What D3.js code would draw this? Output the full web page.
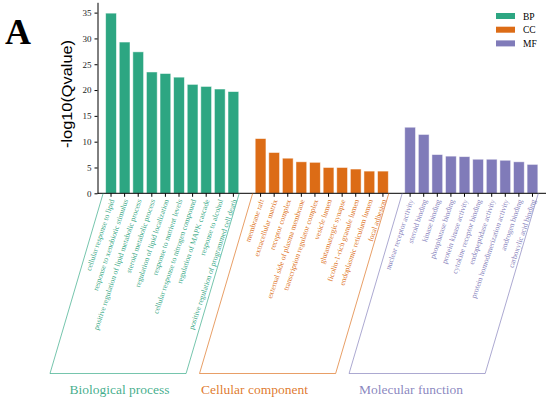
<!DOCTYPE html>
<html>
<head>
<meta charset="utf-8">
<script src="https://cdn.jsdelivr.net/npm/d3@7"></script>
<style>
    body { margin: 0; background: #ffffff; }
    svg { display: block; }
</style>
</head>
<body>
<svg id="chart" width="550" height="401"></svg>
<script>
//GO enrichment data, one list per category
const bpTerms = ["cellular response to lipid", "response to xenobiotic stimulus",
    "positive regulation of lipid metabolic process", "steroid metabolic process",
    "regulation of lipid localization", "response to nutrient levels",
    "cellular response to nitrogen compound", "regulation of MAPK cascade",
    "response to alcohol", "positive regulation of programmed cell death"];
const bpValues = [34.9, 29.3, 27.4, 23.5, 23.2, 22.5, 21.1, 20.7, 20.2, 19.7];

const ccTerms = ["membrane raft", "extracellular matrix", "receptor complex",
    "external side of plasma membrane", "transcription regulator complex", "vesicle lumen",
    "glutamatergic synapse", "ficolin-1-rich granule lumen", "endoplasmic reticulum lumen",
    "focal adhesion"];
const ccValues = [10.6, 7.9, 6.8, 6.1, 6.0, 5.0, 5.0, 4.7, 4.3, 4.3];

const mfTerms = ["nuclear receptor activity", "steroid binding", "kinase binding",
    "phosphatase binding", "protein kinase activity", "cytokine receptor binding",
    "endopeptidase activity", "protein homodimerization activity", "androgen binding",
    "carboxylic acid binding"];
const mfValues = [12.8, 11.4, 7.5, 7.2, 7.1, 6.6, 6.6, 6.4, 6.1, 5.6];

const groupKeys = ["BP", "CC", "MF"];
const groupNames = ["Biological process", "Cellular component", "Molecular function"];
const groupColors = ["#1b9e77", "#d95f02", "#7570b3"];
const yTicks = [0, 5, 10, 15, 20, 25, 30, 35];

const serif = "'Liberation Serif', 'Times New Roman', 'DejaVu Serif', serif";

class GoBarChart {

    constructor() {
        this.svg = d3.select("#chart");
        this.left = 97.5;
        this.right = 546;
        this.top = 2.3;
        this.bottom = 193.3;
        this.boxBottom = 373.5;
        this.slant = 0.295; //dx per dy of the label boxes
        this.groups = [];
        this.bars = [];
    }

    buildData() {
        let terms = [bpTerms, ccTerms, mfTerms];
        let values = [bpValues, ccValues, mfValues];
        let keys = [];
        let i = 0;
        for (i; i < groupKeys.length; i++) {
            let j = 0;
            for (j; j < terms[i].length; j++) {
                this.bars.push({term: terms[i][j], value: values[i][j], group: i});
                keys.push(terms[i][j]);
            }
            this.groups.push({name: groupNames[i], first: terms[i][0],
                last: terms[i][terms[i].length - 1], color: groupColors[i]});
            //empty slot between categories
            if (i < groupKeys.length - 1) {
                keys.push("gap" + i);
            }
        }

        this.x = d3.scaleBand()
            .domain(keys)
            .range([this.left, this.right])
            .paddingInner(0.21)
            .paddingOuter(0.6);

        this.y = d3.scaleLinear()
            .domain([0, 37])
            .range([this.bottom, this.top]);
    }

    drawChart() {
        let x = this.x;
        let y = this.y;
        let bottom = this.bottom;

        //bars
        this.svg.append("g")
            .attr("id", "barsG")
            .selectAll("rect")
            .data(this.bars)
            .enter()
            .append("rect")
            .attr("x", function (d) { return x(d.term); })
            .attr("y", function (d) { return y(d.value); })
            .attr("width", x.bandwidth())
            .attr("height", function (d) { return bottom - y(d.value); })
            .attr("fill", function (d) { return groupColors[d.group]; })
            .attr("fill-opacity", 0.92)
            .attr("stroke", "#ffffff")
            .attr("stroke-opacity", 0.6)
            .attr("stroke-width", 0.8);

        //y axis
        let yAxis = this.svg.append("g")
            .attr("transform", "translate(" + this.left + ",0)")
            .call(d3.axisLeft(y).tickValues(yTicks).tickSize(3).tickSizeOuter(0).tickPadding(3));
        yAxis.selectAll("text")
            .attr("font-family", serif)
            .attr("font-size", 9)
            .attr("fill", "#222");

        //x axis, ticks only under the bars
        let xAxis = this.svg.append("g")
            .attr("transform", "translate(0," + bottom + ")")
            .call(d3.axisBottom(x)
                .tickValues(this.bars.map(function (d) { return d.term; }))
                .tickSize(3.5).tickSizeOuter(0).tickFormat(""));
        xAxis.select(".domain").attr("d", "M" + this.left + ",0H" + this.right);

        //axis title is drawn narrow and tall in the original
        this.svg.append("text")
            .attr("transform", "translate(72,94) rotate(-90)")
            .attr("text-anchor", "middle")
            .attr("font-family", "'Liberation Sans', Arial, sans-serif")
            .attr("font-size", 14)
            .attr("textLength", 108)
            .attr("lengthAdjust", "spacingAndGlyphs")
            .text("-log10(Qvalue)");

        this.svg.append("text")
            .attr("x", 5)
            .attr("y", 44)
            .attr("font-family", serif)
            .attr("font-weight", "bold")
            .attr("font-size", 36)
            .text("A");
    }

    drawLabels() {
        let x = this.x;
        let bottom = this.bottom;
        let half = x.bandwidth() / 2;

        //rotated term labels
        this.svg.append("g")
            .attr("id", "labelsG")
            .selectAll("text")
            .data(this.bars)
            .enter()
            .append("text")
            .attr("transform", function (d) {
                return "translate(" + (x(d.term) + half + 3.5) + "," + (bottom + 7) + ") rotate(-71.5)";
            })
            .attr("text-anchor", "end")
            .attr("font-family", serif)
            .attr("font-size", 7.6)
            .attr("fill", function (d) { return groupColors[d.group]; })
            .attr("fill-opacity", 0.9)
            .text(function (d) { return d.term; });

        //open boxes round each category
        let top = bottom;
        let boxBottom = this.boxBottom;
        let shift = (boxBottom - top) * this.slant;
        let offsets = [19.5, 1.5, 10];
        let boxG = this.svg.append("g").attr("id", "boxesG");

        boxG.selectAll("path")
            .data(this.groups)
            .enter()
            .append("path")
            .attr("d", function (d) {
                let l = x(d.first) - 2.5;
                let r = x(d.last) + x.bandwidth() + 0.5;
                return "M" + l + "," + top + "L" + (l - shift) + "," + boxBottom +
                    "H" + (r - shift) + "L" + r + "," + top;
            })
            .attr("fill", "none")
            .attr("stroke", function (d) { return d.color; })
            .attr("stroke-opacity", 0.6)
            .attr("stroke-width", 1);

        boxG.selectAll("text")
            .data(this.groups)
            .enter()
            .append("text")
            .attr("x", function (d, i) { return x(d.first) - 2.5 - shift + offsets[i]; })
            .attr("y", 394)
            .attr("font-family", serif)
            .attr("font-size", 13.5)
            .attr("fill", function (d) { return d.color; })
            .attr("fill-opacity", 0.85)
            .text(function (d) { return d.name; });
    }

    drawLegend() {
        let legend = this.svg.append("g")
            .attr("id", "legendG")
            .attr("transform", "translate(496,13)");
        let items = legend.selectAll("g")
            .data(groupKeys)
            .enter()
            .append("g")
            .attr("transform", function (d, i) { return "translate(0," + (i * 13.7) + ")"; });
        items.append("rect")
            .attr("width", 19)
            .attr("height", 6)
            .attr("fill", function (d, i) { return groupColors[i]; })
            .attr("fill-opacity", 0.92);
        items.append("text")
            .attr("x", 27)
            .attr("y", 6.5)
            .attr("font-family", serif)
            .attr("font-size", 9.5)
            .text(function (d) { return d; });
    }
}

let chart = new GoBarChart();
chart.buildData();
chart.drawChart();
chart.drawLabels();
chart.drawLegend();
</script>
</body>
</html>
